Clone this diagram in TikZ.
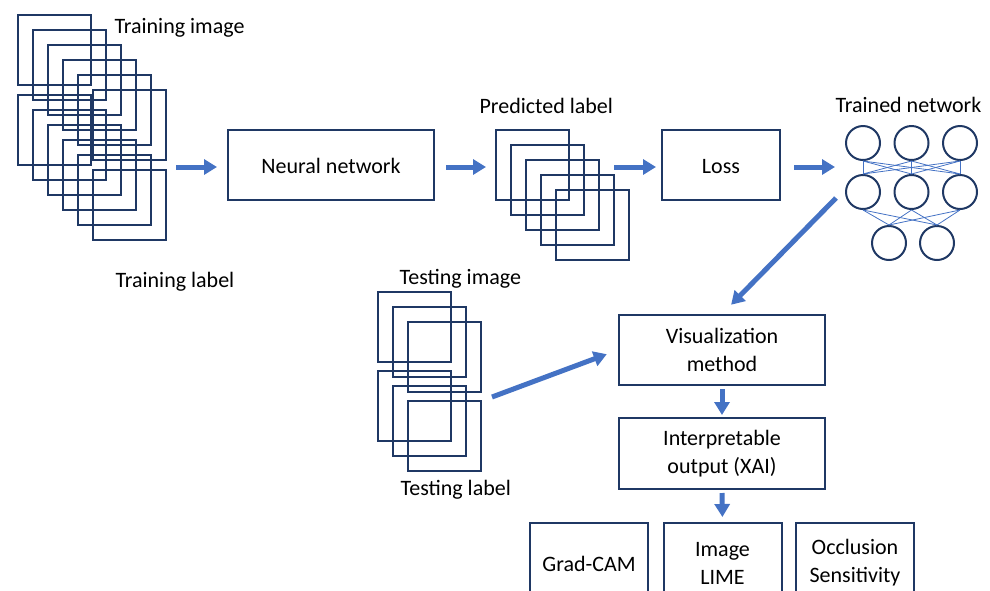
\documentclass[tikz,border=0pt]{standalone}
\usepackage{fontspec}
\setmainfont{Carlito}
\usetikzlibrary{arrows.meta,positioning,calc}
\definecolor{FrameNavy}{HTML}{1F3864}
\definecolor{FlowBlue}{HTML}{4472C4}

\begin{document}
\begin{tikzpicture}[x=1pt,y=-1pt,
  every node/.style={font=\fontsize{22}{28}\selectfont},
  frame/.style={draw=FrameNavy,line width=2pt},
  block/.style={frame,minimum height=70pt,inner sep=0pt,align=center},
  method/.style={frame,minimum width=118pt,minimum height=80pt,inner sep=0pt,align=center},
  oneline/.style={text height=18pt},
  neuron/.style={circle,draw=FrameNavy,line width=2pt,minimum size=34pt,inner sep=0pt},
  link/.style={FlowBlue,line width=0.8pt},
  flow/.style={draw=FlowBlue,line width=5pt,-{Triangle[length=13pt,width=15pt]}}]
  \useasboundingbox (0,0) rectangle (990,590);
  \clip (0,0) rectangle (990,590);
  % image stacks
  \foreach \i in {0,...,5}{
    \draw[frame] (18+15*\i,15+15*\i) rectangle ++(73,70);
    \draw[frame] (18+15*\i,95+15*\i) rectangle ++(73,70);
  }
  \foreach \i in {0,...,4}
    \draw[frame] (496+15*\i,130+15*\i) rectangle ++(73,70);
  \foreach \i in {0,...,2}{
    \draw[frame] (378+15*\i,292+15*\i) rectangle ++(73,70);
    \draw[frame] (378+15*\i,371+15*\i) rectangle ++(73,70);
  }
  \node[anchor=base west] (trainimg) at (111,33) {Training image};
  \node[anchor=base west] (trainlab) at (112,287) {Training label};
  \node[anchor=base west] (predlab) at (476,113) {Predicted label};
  \node[anchor=base west] (trained) at (832,112) {Trained network};
  \node[anchor=base west] (testimg) at (396,284) {Testing image};
  \node[anchor=base west] (testlab) at (397,495) {Testing label};
  % boxes
  \node[block,oneline,minimum width=206pt] (nn) at (331,165) {Neural network};
  \node[block,oneline,minimum width=118pt] (loss) at (721,165) {Loss};
  \node[block,minimum width=206pt] (vis) at (722,350) {Visualization\\method};
  \node[block,minimum width=206pt,minimum height=71pt] (xai) at (722,453.5) {Interpretable\\output (XAI)};
  \node[method,oneline] (gradcam) at (589,563) {Grad-CAM};
  \node[method] (lime) at (722.5,563) {Image\\LIME};
  \node[method] (occl) at (855,563) {Occlusion\\Sensitivity};
  % trained network
  \node[neuron] (t1) at (863,143) {};
  \node[neuron] (t2) at (911.5,143) {};
  \node[neuron] (t3) at (960,143) {};
  \node[neuron] (m1) at (863,192) {};
  \node[neuron] (m2) at (911.5,192) {};
  \node[neuron] (m3) at (960,192) {};
  \node[neuron] (b1) at (889,243) {};
  \node[neuron] (b2) at (937,243) {};
  \foreach \a in {1,2,3}{
    \foreach \b in {1,2,3} \draw[link] (t\a.south) -- (m\b.north);
    \foreach \b in {1,2} \draw[link] (m\a.south) -- (b\b.north);
  }
  % arrows
  \coordinate (trainout) at (176,167);
  \coordinate (predin) at (486,167);
  \coordinate (predout) at (614,167);
  \coordinate (netin) at (835,167);
  \coordinate (netout) at (836,198);
  \coordinate (testout) at (492,397);
  \draw[flow,shorten >=10pt] (trainout) -- (trainout -| nn.west);
  \draw[flow,shorten <=11pt] (predin -| nn.east) -- (predin);
  \draw[flow,shorten >=5pt] (predout) -- (predout -| loss.west);
  \draw[flow,shorten <=13pt] (netin -| loss.east) -- (netin);
  \draw[flow,shorten >=13pt] (netout) -- (vis.north);
  \draw[flow,shorten >=12pt] (testout) -- (vis.west);
  \draw[flow,shorten <=3pt,shorten >=2pt] (vis.south) -- (xai.north);
  \draw[flow,shorten <=3pt,shorten >=5pt] (xai.south) -- (lime.north);
\end{tikzpicture}
\end{document}
